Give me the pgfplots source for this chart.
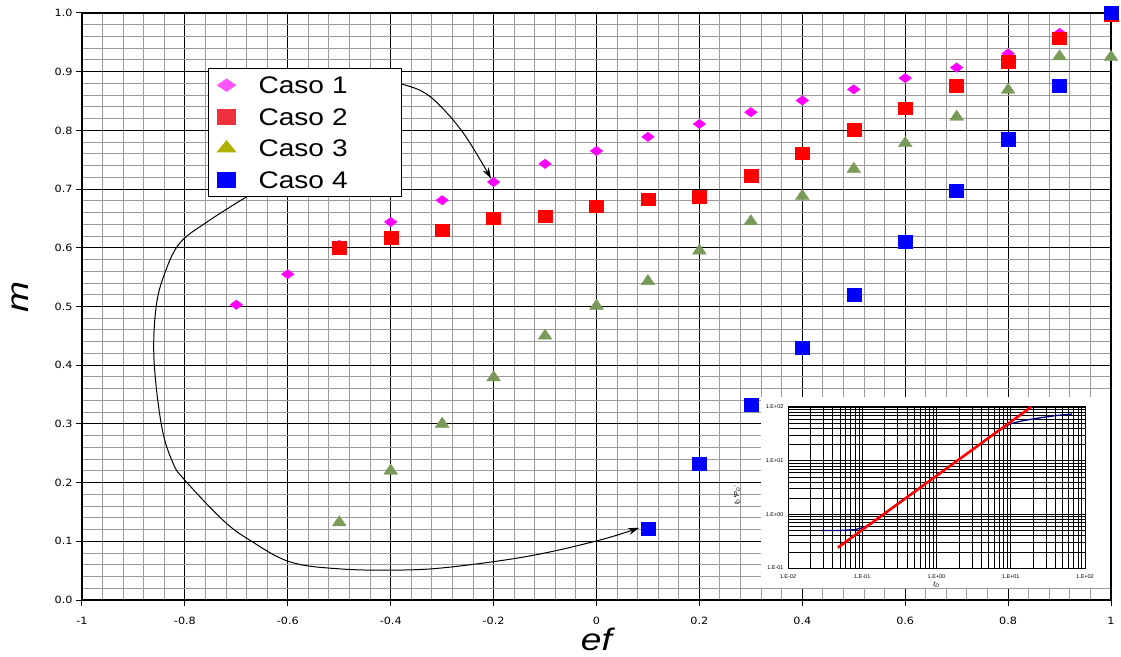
\documentclass[border=0pt]{standalone}
\usepackage{fontspec}
\usepackage{pgfplots}
\usepackage{pgfplotstable}
\pgfplotsset{compat=1.18}
\usetikzlibrary{arrows.meta}
\setmainfont{Liberation Sans}
\newfontfamily\tickfont[FakeStretch=1.12]{DejaVu Sans}
\newfontfamily\legfont[FakeStretch=1.17]{Liberation Sans}
\newfontfamily\labfont[FakeStretch=1.2]{Liberation Sans}
\newfontfamily\smallfont{Liberation Sans}
\definecolor{c1}{RGB}{255,0,255}
\definecolor{c2}{RGB}{255,0,0}
\definecolor{c3}{RGB}{122,154,90}
\definecolor{c4}{RGB}{0,0,255}
\definecolor{l1}{RGB}{255,85,255}
\definecolor{l2}{RGB}{240,48,60}
\definecolor{l3}{RGB}{176,176,0}
\definecolor{gridgray}{RGB}{155,155,155}
\definecolor{navyc}{RGB}{0,0,128}

\pgfplotstableread{
x y
-0.7 0.503
-0.6 0.555
-0.5 0.605
-0.4 0.644
-0.3 0.681
-0.2 0.712
-0.1 0.743
0.0 0.765
0.1 0.789
0.2 0.811
0.3 0.831
0.4 0.851
0.5 0.870
0.6 0.889
0.7 0.907
0.8 0.931
0.9 0.966
1.0 1.000
}\casoA
\pgfplotstableread{
x y
-0.5 0.600
-0.4 0.617
-0.3 0.630
-0.2 0.650
-0.1 0.654
0.0 0.671
0.1 0.683
0.2 0.687
0.3 0.723
0.4 0.761
0.5 0.801
0.6 0.838
0.7 0.876
0.8 0.917
0.9 0.957
1.0 0.997
}\casoB
\pgfplotstableread{
x y
-0.5 0.132
-0.4 0.220
-0.3 0.300
-0.2 0.379
-0.1 0.450
0.0 0.501
0.1 0.543
0.2 0.595
0.3 0.645
0.4 0.688
0.5 0.734
0.6 0.778
0.7 0.823
0.8 0.869
0.9 0.926
1.0 0.925
}\casoC
\pgfplotstableread{
x y
0.1 0.122
0.2 0.232
0.3 0.333
0.4 0.429
0.5 0.520
0.6 0.610
0.7 0.698
0.8 0.785
0.9 0.876
1.0 1.000
}\casoD

\begin{document}
\begin{tikzpicture}
\path (-82pt,-56pt) rectangle (1039pt,600pt);
\begin{axis}[
  at={(0pt,0pt)}, anchor=south west,
  scale only axis, width=1029pt, height=587pt,
  xmin=-1, xmax=1, ymin=0, ymax=1,
  clip=false,
  xtick={-1,-0.8,-0.6,-0.4,-0.2,0,0.2,0.4,0.6,0.8,1},
  xticklabels={-1,-0.8,-0.6,-0.4,-0.2,0,0.2,0.4,0.6,0.8,1},
  ytick={0,0.1,0.2,0.3,0.4,0.5,0.6,0.7,0.8,0.9,1},
  yticklabels={0.0,0.1,0.2,0.3,0.4,0.5,0.6,0.7,0.8,0.9,1.0},
  minor x tick num=4, minor y tick num=4,
  grid=both,
  major grid style={black, line width=1pt},
  minor grid style={gridgray, line width=1pt},
  axis line style={black, line width=1.5pt},
  tick align=outside, major tick length=6pt, minor tick length=0pt,
  xtick pos=bottom, ytick pos=left,
  tick style={black, line width=1pt},
  /pgf/number format/assume math mode=true,
  ticklabel style={font=\tickfont\fontsize{10}{12}\selectfont},
  xticklabel style={anchor=center, yshift=-15pt},
  yticklabel style={anchor=east, xshift=0pt},
  xlabel={ef}, ylabel={m},
  label style={font=\labfont\itshape\fontsize{31}{36}\selectfont},
  xlabel style={at={([yshift=-39pt]axis description cs:0.5,0)}, anchor=center},
  ylabel style={at={([xshift=-62pt]axis description cs:0,0.516)}, anchor=center},
  legend cell align=left,
  legend style={
    at={(axis cs:-0.755,0.906)}, anchor=north west,
    draw=black, line width=1pt, fill=white,
    inner xsep=6pt, inner ysep=8pt,
    row sep=14.5pt, column sep=8pt,
    font=\legfont\fontsize{24}{28}\selectfont,
    nodes={inner sep=0pt, text height=17pt, text depth=0pt, text width=137pt},
  },
  legend image code/.code={\path[draw=none,fill=none] (0pt,-6pt) rectangle (36pt,6pt); \draw[#1] plot coordinates {(12pt,0pt)};},
]
\addplot[only marks, mark=diamond*, mark size=6.3pt, mark options={rotate=90}, color=c1, forget plot] table {\casoA};
\addplot[only marks, mark=square*, mark size=7pt, mark options={yscale=0.88}, color=c2, forget plot] table {\casoB};
\addplot[only marks, mark=triangle*, mark size=8pt, mark options={yscale=0.85}, color=c3, forget plot] table {\casoC};
\addplot[only marks, mark=square*, mark size=7pt, mark options={yscale=0.93}, color=c4, forget plot] table {\casoD};

\draw[line width=1pt, -{Stealth[length=11pt,width=7pt]}] plot[smooth, tension=0.6] coordinates {
 (-0.379,0.879) (-0.340,0.867) (-0.305,0.843) (-0.256,0.792) (-0.205,0.718)};
\draw[line width=1pt, -{Stealth[length=11pt,width=7pt]}] plot[smooth, tension=0.6] coordinates {
 (-0.680,0.687) (-0.757,0.644) (-0.810,0.608) (-0.839,0.557) (-0.856,0.499) (-0.860,0.409)
 (-0.845,0.295) (-0.823,0.233) (-0.800,0.204) (-0.726,0.136) (-0.674,0.102) (-0.596,0.065)
 (-0.499,0.053) (-0.383,0.051) (-0.285,0.056) (-0.130,0.075) (0.006,0.102) (0.083,0.123)};

\addlegendimage{only marks, mark=diamond*, mark size=9pt, mark options={yscale=0.9,rotate=90}, color=l1}
\addlegendentry{Caso 1}
\addlegendimage{only marks, mark=square*, mark size=9pt, mark options={yscale=0.82}, color=l2}
\addlegendentry{Caso 2}
\addlegendimage{only marks, mark=triangle*, mark size=10.4pt, mark options={yscale=0.7}, color=l3}
\addlegendentry{Caso 3}
\addlegendimage{only marks, mark=square*, mark size=9pt, mark options={yscale=0.85}, color=c4}
\addlegendentry{Caso 4}
\end{axis}

\fill[white] (679pt,12pt) rectangle (1028pt,203pt);

\begin{axis}[
  at={(706pt,32pt)}, anchor=south west,
  scale only axis, width=297pt, height=161pt,
  xmode=log, ymode=log,
  xmin=1e-2, xmax=1e2, ymin=1e-1, ymax=1e2,
  xtick={1e-2,1e-1,1,1e1,1e2},
  xticklabels={1.E-02,1.E-01,1.E+00,1.E+01,1.E+02},
  ytick={1e-1,1,1e1,1e2},
  yticklabels={1.E-01,1.E+00,1.E+01,1.E+02},
  grid=both,
  major grid style={black, line width=0.9pt},
  minor grid style={black, line width=0.6pt},
  axis line style={black, line width=1pt},
  tick style={draw=none},
  /pgf/number format/assume math mode=true,
  ticklabel style={font=\smallfont\fontsize{5.5}{6}\selectfont},
  xticklabel style={anchor=center, yshift=-9pt},
  yticklabel style={anchor=east, xshift=-1pt},
  xlabel={\itshape t\textsubscript{D}},
  ylabel={\itshape t\textsubscript{D}*P\textsubscript{D}'},
  label style={font=\smallfont\fontsize{7}{8}\selectfont},
  xlabel style={at={([yshift=-17pt]axis description cs:0.5,0)}, anchor=center},
  ylabel style={at={([xshift=-51pt]axis description cs:0,0.45)}, anchor=center},
]
\addplot[navyc, line width=1.3pt] coordinates {
 (0.028,0.50) (0.05,0.50) (0.08,0.52) (0.10,0.56) (0.13,0.67) (0.2,1.06) (1,5.3) (5,26.5) (8,41) (10,49) (15,56) (25,63) (40,69) (67,74)};
\addplot[red, line width=2.6pt] coordinates {(0.047,0.24) (18.8,100)};
\end{axis}
\end{tikzpicture}
\end{document}
